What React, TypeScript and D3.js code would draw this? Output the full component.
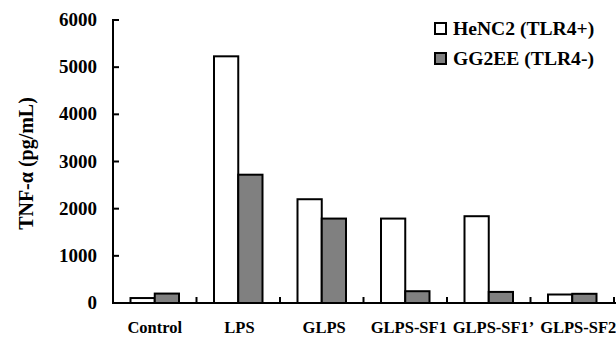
import React from "react";
import { scaleBand, scaleLinear } from "d3";

const categories = ["Control", "LPS", "GLPS", "GLPS-SF1", "GLPS-SF1\u2019", "GLPS-SF2"];
const series = ["HeNC2 (TLR4+)", "GG2EE (TLR4-)"];
const henc2 = [105, 5230, 2200, 1790, 1840, 180];
const gg2ee = [200, 2720, 1790, 250, 235, 195];
const yTicks = [0, 1000, 2000, 3000, 4000, 5000, 6000];
const fills = ["#ffffff", "#808080"];

const W = 616;
const H = 337;
const left = 113;
const right = 614;
const top = 20;
const bottom = 303;
const font = "'Liberation Serif', 'Times New Roman', serif";

const App = () => {
  const xScale = scaleBand<string>().domain(categories).range([left, right]);
  const inner = scaleBand<string>()
    .domain(series)
    .range([17.5, xScale.bandwidth() - 17.5]);
  const yScale = scaleLinear().domain([0, 6000]).range([bottom, top]);
  const values = [henc2, gg2ee];

  return (
    <svg width={W} height={H} style={{ position: "absolute", left: 0, top: 0, background: "#fff" }}>
      {/* bars */}
      {categories.map((c, i) =>
        series.map((s, j) => (
          <rect
            key={c + s}
            x={(xScale(c) as number) + (inner(s) as number)}
            y={yScale(values[j][i])}
            width={inner.bandwidth()}
            height={bottom - yScale(values[j][i])}
            fill={fills[j]}
            stroke="#000"
            strokeWidth={2}
          />
        ))
      )}

      {/* y axis */}
      <line x1={left} x2={left} y1={top - 1} y2={bottom + 1} stroke="#000" strokeWidth={2} />
      {yTicks.map((t) => (
        <g key={t}>
          <line x1={left} x2={left + 6} y1={yScale(t)} y2={yScale(t)} stroke="#000" strokeWidth={2} />
          <text
            x={97}
            y={yScale(t) + 6}
            textAnchor="end"
            fontFamily={font}
            fontWeight="bold"
            fontSize={19}
          >
            {t}
          </text>
        </g>
      ))}
      <text
        transform={`translate(33,${(top + bottom) / 2 + 2}) rotate(-90) scale(1,1.08)`}
        textAnchor="middle"
        fontFamily={font}
        fontWeight="bold"
        fontSize={20}
      >
        TNF-α (pg/mL)
      </text>

      {/* x axis */}
      <line x1={left - 1} x2={W} y1={bottom} y2={bottom} stroke="#000" strokeWidth={2} />
      {categories.map((c, i) => (
        <g key={c}>
          <line
            x1={(xScale(c) as number) + xScale.bandwidth()}
            x2={(xScale(c) as number) + xScale.bandwidth()}
            y1={bottom}
            y2={bottom - 6}
            stroke="#000"
            strokeWidth={2}
          />
          <text
            x={(xScale(c) as number) + xScale.bandwidth() / 2 + i * 1.2}
            y={333}
            textAnchor="middle"
            fontFamily={font}
            fontWeight="bold"
            fontSize={16.5}
          >
            {c}
          </text>
        </g>
      ))}

      {/* legend */}
      {series.map((s, j) => (
        <g key={s} transform={`translate(435,${23 + j * 30})`}>
          <rect x={0} y={0} width={11} height={11} fill={fills[j]} stroke="#000" strokeWidth={2} />
          <text
            transform="translate(18,11.5) scale(1.06,1)"
            fontFamily={font}
            fontWeight="bold"
            fontSize={18.5}
          >
            {s}
          </text>
        </g>
      ))}
    </svg>
  );
};

export default App;
